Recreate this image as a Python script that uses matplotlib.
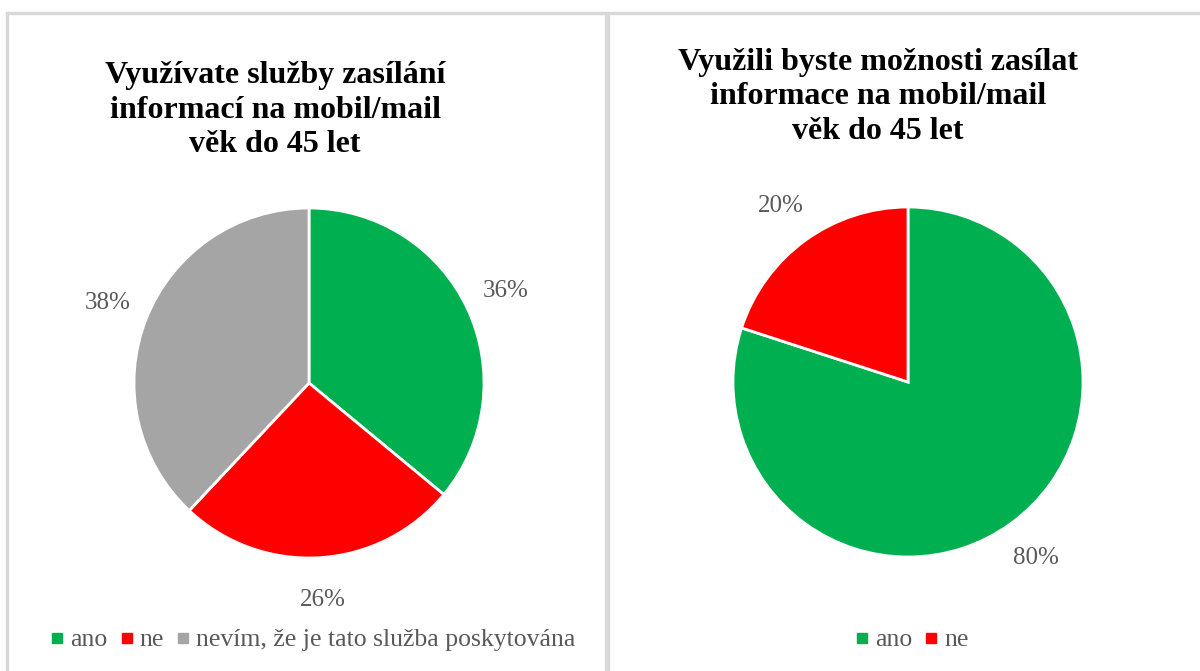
import matplotlib.pyplot as plt
from matplotlib.lines import Line2D
from matplotlib.patches import Rectangle

plt.rcParams['font.family'] = ['Liberation Serif', 'DejaVu Serif']

# left chart
left_title = "Využívate služby zasílání\ninformací na mobil/mail\nvěk do 45 let"
left_labels = ["ano", "ne", "nevím, že je tato služba poskytována"]
left_values = [36, 26, 38]
left_colors = ["#00b050", "#ff0000", "#a5a5a5"]

# right chart
right_title = "Využili byste možnosti zasílat\ninformace na mobil/mail\nvěk do 45 let"
right_labels = ["ano", "ne"]
right_values = [80, 20]
right_colors = ["#00b050", "#ff0000"]

W, H = 1200, 671
fig = plt.figure(figsize=(12, 6.71), dpi=100)
fig.patch.set_facecolor("white")

border = "#d9d9d9"
# panel borders (pixel coords converted to figure fraction)
def px_rect(x0, y0, x1, y1):
    fig.patches.append(Rectangle((x0 / W, 1 - y1 / H), (x1 - x0) / W, (y1 - y0) / H,
                                 transform=fig.transFigure, color=border, zorder=0))

px_rect(6, 12, 1200, 14)      # top line
px_rect(6, 12, 8, 671)        # left line
px_rect(605, 12, 609, 671)    # divider


def draw_pie(cx, cy, r, values, colors):
    ax = fig.add_axes([(cx - r) / W, 1 - (cy + r) / H, 2 * r / W, 2 * r / H])
    wedges, texts, autotexts = ax.pie(values, colors=colors, startangle=90, counterclock=False,
                                      autopct="%d%%", pctdistance=1.24,
                                      wedgeprops=dict(edgecolor="white", linewidth=2),
                                      textprops=dict(fontsize=18, color="#595959"))
    ax.set_xlim(-1, 1)
    ax.set_ylim(-1, 1)
    ax.set_aspect("equal")
    return ax


draw_pie(309, 383, 175, left_values, left_colors)
draw_pie(908, 382, 175, right_values, right_colors)

fig.text(275 / W, 1 - 110 / H, left_title, ha="center", va="center", fontsize=23,
         fontweight="bold", linespacing=1.27, color="black")
fig.text(878 / W, 1 - 97 / H, right_title, ha="center", va="center", fontsize=23,
         fontweight="bold", linespacing=1.27, color="black")


def legend(x, labels, colors):
    handles = [Line2D([], [], marker="s", linestyle="none", markersize=7,
                      markerfacecolor=c, markeredgecolor=c) for c in colors]
    leg = fig.legend(handles, labels, loc="center", bbox_to_anchor=(x / W, 1 - 640 / H),
                     ncol=len(labels), frameon=False, fontsize=18.5, handlelength=0.5,
                     handletextpad=0.25, columnspacing=0.5, labelcolor="#595959")
    return leg


legend(313, left_labels, left_colors)
legend(912, right_labels, right_colors)

fig.savefig("out.png", dpi=100, facecolor="white")
